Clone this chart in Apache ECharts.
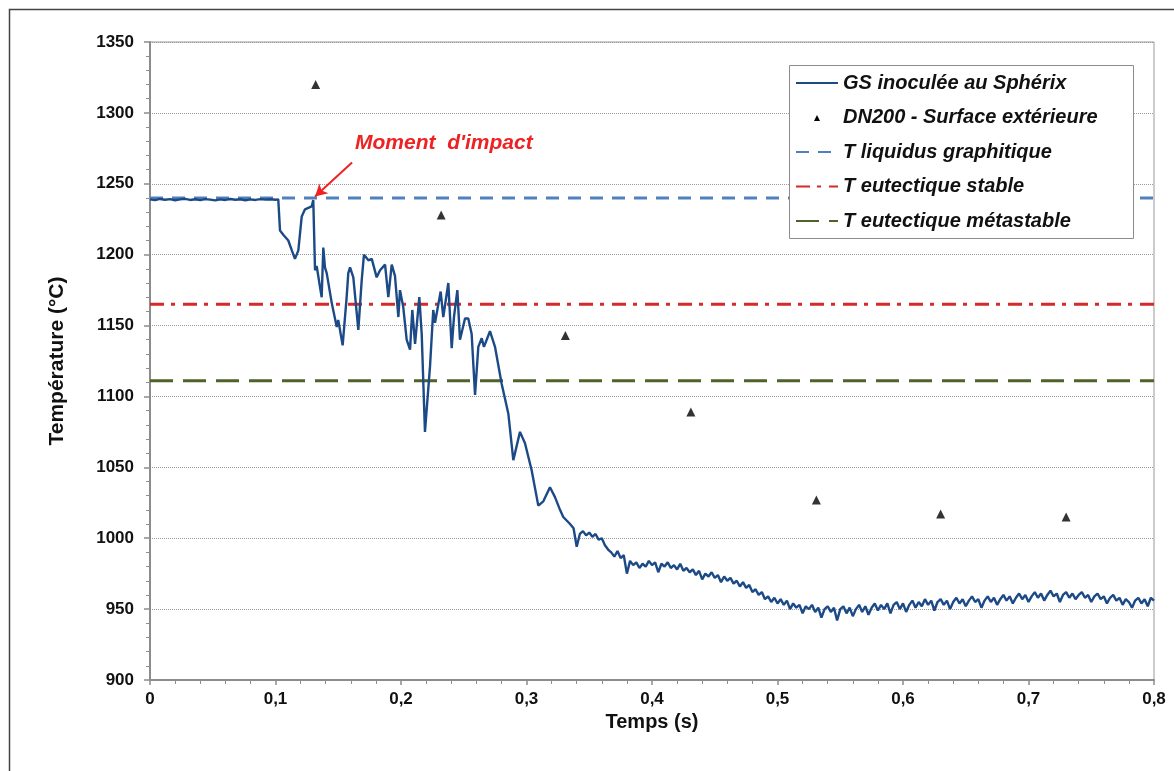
<!DOCTYPE html>
<html>
<head>
<meta charset="utf-8">
<script src="https://cdn.jsdelivr.net/npm/echarts@6/dist/echarts.min.js"></script>
<style>
html,body{margin:0;padding:0;background:#fff;}
#chart{width:1174px;height:771px;}
</style>
</head>
<body>
<div id="chart"></div>
<script>
// ---- DATA ----
const seriesNames = ['GS inoculée au Sphérix', 'DN200 - Surface extérieure', 'T liquidus graphitique', 'T eutectique stable', 'T eutectique métastable'];
const xTicks = [0, 0.1, 0.2, 0.3, 0.4, 0.5, 0.6, 0.7, 0.8];
const yTicks = [900, 950, 1000, 1050, 1100, 1150, 1200, 1250, 1300, 1350];

// GS inoculée au Sphérix : [temps (s), température (°C)]
const gsCurve = [
  [0,1239],[0.004,1238.5],[0.008,1239.3],[0.012,1238.7],[0.016,1239.2],[0.02,1238.4],[0.024,1239],[0.028,1239.4],
  [0.032,1238.6],[0.036,1239.1],[0.04,1238.5],[0.044,1239.2],[0.048,1238.8],[0.052,1238.3],[0.056,1239],[0.06,1238.6],
  [0.064,1239.3],[0.068,1238.7],[0.072,1239.1],[0.076,1238.4],[0.08,1239],[0.084,1238.6],[0.088,1239.2],[0.092,1238.8],
  [0.096,1239.1],[0.1,1238.7],[0.1022,1239],
  [0.1036,1217],[0.1062,1214],[0.1102,1210],[0.113,1203],[0.1155,1197],[0.1182,1203],[0.1209,1227],[0.1235,1232],
  [0.1288,1234],[0.1301,1238.5],[0.1315,1189],[0.1328,1192],[0.1355,1177],[0.1368,1170],[0.1381,1205],[0.1394,1191],
  [0.1408,1187],[0.1448,1166],[0.1488,1149],[0.15,1154],[0.1535,1136],[0.1567,1170],[0.158,1187],[0.1594,1191],
  [0.162,1184],[0.166,1147],[0.1687,1182],[0.1705,1200],[0.174,1196],[0.1767,1197],[0.1806,1184],[0.1833,1189],
  [0.1873,1193],[0.1899,1170],[0.1926,1193],[0.1952,1185],[0.1979,1156],[0.1992,1175],[0.2018,1163],[0.2045,1140],
  [0.2072,1133],[0.209,1161],[0.2112,1137],[0.2146,1170],[0.2165,1144],[0.2191,1075],[0.2231,1121],[0.2257,1161],
  [0.2271,1152],[0.2316,1174],[0.2337,1156],[0.2377,1180],[0.2404,1134],[0.2422,1156],[0.2449,1175],[0.247,1140],
  [0.251,1155],[0.2536,1155],[0.2563,1144],[0.259,1101],[0.2616,1135],[0.2643,1141],[0.2661,1135],[0.2709,1146],
  [0.2749,1135],[0.2802,1109],[0.2855,1088],[0.2895,1055],[0.2948,1075],[0.2988,1067],[0.3041,1048],[0.3094,1023],
  [0.3134,1026],[0.3187,1036],[0.3227,1029],[0.3267,1020],[0.3293,1015],[0.3347,1010],[0.3375,1007],[0.34,994],
  [0.3425,1003],[0.345,1005],[0.3475,1002],[0.35,1004],[0.3525,1001],[0.355,1003],[0.3575,999],[0.36,1000],
  [0.3625,995],[0.365,992],[0.3675,990],[0.37,987],[0.3725,991],[0.375,986],[0.3775,988],[0.38,975],
  [0.3825,984],[0.385,981],[0.3875,983],[0.39,979],[0.3925,982],[0.395,980],[0.3975,984],[0.4,981],
  [0.4025,983],[0.405,976],[0.4075,982],[0.41,980],[0.4125,983],[0.415,979],[0.4175,981],[0.42,978],
  [0.4225,982],[0.425,977],[0.4275,979],[0.43,976],[0.4325,978],[0.435,974],[0.4375,977],[0.44,971],
  [0.4425,975],[0.445,973],[0.4475,976],[0.45,972],[0.4525,974],[0.455,969],[0.4575,973],[0.46,970],
  [0.4625,972],[0.465,968],[0.4675,970],[0.47,966],[0.4725,969],[0.475,965],[0.4775,967],[0.48,962],
  [0.4825,964],[0.485,960],[0.4875,962],[0.49,957],[0.4925,959],[0.495,955],[0.4975,958],[0.5,954],
  [0.5025,957],[0.505,953],[0.5075,956],[0.51,950],[0.5125,954],[0.515,951],[0.5175,953],[0.52,947],
  [0.5225,952],[0.525,950],[0.5275,953],[0.53,948],[0.5325,951],[0.535,944],[0.5375,950],[0.54,952],
  [0.5425,948],[0.545,951],[0.5475,942],[0.55,950],[0.5525,952],[0.555,947],[0.5575,951],[0.56,945],
  [0.5625,950],[0.565,953],[0.5675,948],[0.57,952],[0.5725,946],[0.575,951],[0.5775,954],[0.58,949],
  [0.5825,953],[0.585,950],[0.5875,954],[0.59,947],[0.5925,953],[0.595,955],[0.5975,950],[0.6,954],
  [0.6025,948],[0.605,953],[0.6075,956],[0.61,951],[0.6125,955],[0.615,952],[0.6175,957],[0.62,953],
  [0.6225,956],[0.625,949],[0.6275,955],[0.63,957],[0.6325,953],[0.635,956],[0.6375,950],[0.64,955],
  [0.6425,958],[0.645,954],[0.6475,957],[0.65,952],[0.6525,956],[0.655,959],[0.6575,955],[0.66,957],
  [0.6625,951],[0.665,956],[0.6675,959],[0.67,955],[0.6725,958],[0.675,953],[0.6775,957],[0.68,960],
  [0.6825,956],[0.685,959],[0.6875,954],[0.69,958],[0.6925,961],[0.695,957],[0.6975,960],[0.7,955],
  [0.7025,959],[0.705,962],[0.7075,958],[0.71,961],[0.7125,956],[0.715,960],[0.7175,963],[0.72,959],
  [0.7225,961],[0.725,955],[0.7275,960],[0.73,962],[0.7325,958],[0.735,961],[0.7375,957],[0.74,960],
  [0.7425,962],[0.745,958],[0.7475,960],[0.75,955],[0.7525,959],[0.755,961],[0.7575,957],[0.76,959],
  [0.7625,954],[0.765,958],[0.7675,960],[0.77,956],[0.7725,958],[0.775,953],[0.7775,957],[0.78,955],
  [0.7825,951],[0.785,956],[0.7875,958],[0.79,954],[0.7925,957],[0.795,952],[0.7975,958],[0.8,956]
];

// DN200 - Surface extérieure
const dn200Times = [0.132, 0.232, 0.331, 0.431, 0.531, 0.630, 0.730];
const dn200Temps = [1320, 1228, 1143, 1089, 1027, 1017, 1015];

// Températures de référence
const tLiquidus = 1240;
const tEutStable = 1165;
const tEutMetastable = 1111;
const xRange = [0, 0.8];

// Annotation "Moment d'impact" : flèche [temps, température]
const impactArrowFrom = [0.161, 1265];
const impactArrowTo = [0.1315, 1241];
const impactLabel = "Moment  d'impact";

// ---- CHART ----
const FONT = '"Liberation Sans", Arial, sans-serif';
const chart = echarts.init(document.getElementById('chart'), null, {renderer: 'canvas'});

function hline(name, val, color, dash) {
  return {
    name: name, type: 'line', symbol: 'none', silent: true,
    data: [[xRange[0], val], [xRange[1], val]],
    lineStyle: {color: color, width: 3, type: dash},
    itemStyle: {color: color},
    z: 2
  };
}

const option = {
  animation: false,
  backgroundColor: '#fff',
  textStyle: {fontFamily: FONT},
  grid: {left: 150, right: 20, top: 42, bottom: 91, show: true, borderColor: '#999', borderWidth: 1, backgroundColor: 'transparent'},
  xAxis: {
    type: 'value', min: 0, max: 0.8, interval: 0.1,
    name: 'Temps (s)', nameLocation: 'middle', nameGap: 29,
    nameTextStyle: {fontFamily: FONT, fontSize: 20, fontWeight: 'bold', color: '#111'},
    axisLine: {show: true, lineStyle: {color: '#8c8c8c', width: 2}},
    axisTick: {show: true, length: 5, lineStyle: {color: '#8c8c8c', width: 1.5}},
    minorTick: {show: true, splitNumber: 5, length: 4, lineStyle: {color: '#8c8c8c', width: 1}},
    splitLine: {show: false},
    axisLabel: {
      margin: 11, fontFamily: FONT, fontSize: 17, fontWeight: 'bold', color: '#111',
      formatter: function (v) { return v === 0 ? '0' : v.toFixed(1).replace('.', ','); }
    }
  },
  yAxis: {
    type: 'value', min: 900, max: 1350, interval: 50,
    name: 'Température (°C)', nameLocation: 'middle', nameGap: 82, nameRotate: 90,
    nameTextStyle: {fontFamily: FONT, fontSize: 21, fontWeight: 'bold', color: '#111'},
    axisLine: {show: true, lineStyle: {color: '#8c8c8c', width: 2}},
    axisTick: {show: true, length: 6, lineStyle: {color: '#8c8c8c', width: 1.5}},
    minorTick: {show: true, splitNumber: 5, length: 4, lineStyle: {color: '#8c8c8c', width: 1}},
    splitLine: {show: true, lineStyle: {color: '#9a9a9a', width: 1, type: 'dotted'}},
    axisLabel: {margin: 16, fontFamily: FONT, fontSize: 17, fontWeight: 'bold', color: '#111',
      formatter: function (v) { return String(v); }}
  },
  legend: {
    orient: 'vertical', left: 789, top: 65, itemWidth: 42, itemHeight: 14, itemGap: 12.5,
    padding: [7, 10, 7, 6], z: 6,
    backgroundColor: 'transparent', borderWidth: 0,
    itemStyle: {opacity: 0},
    textStyle: {fontFamily: FONT, fontSize: 20, lineHeight: 22, fontWeight: 'bold', fontStyle: 'italic', color: '#111'},
    data: [
      {name: seriesNames[0]},
      {name: seriesNames[1], icon: 'path://M0,0 M42,14 M18,10.5 L21,4.5 L24,10.5 Z', itemStyle: {color: '#000', opacity: 1}},
      {name: seriesNames[2]},
      {name: seriesNames[3]},
      {name: seriesNames[4]}
    ]
  },
  series: [
    {
      name: seriesNames[0], type: 'line', symbol: 'none', data: gsCurve,
      lineStyle: {color: '#1c4a86', width: 2.4}, itemStyle: {color: '#1c4a86'}, z: 5,
      markLine: {
        silent: true, symbol: ['none', 'arrow'], symbolSize: [10, 12],
        lineStyle: {color: '#ee2222', width: 2, type: 'solid'},
        label: {show: false},
        data: [[{coord: impactArrowFrom}, {coord: impactArrowTo}]]
      }
    },
    {
      name: seriesNames[1], type: 'scatter', symbol: 'triangle', symbolSize: 9,
      data: dn200Times.map((t, i) => [t, dn200Temps[i]]),
      itemStyle: {color: '#000'}, z: 6
    },
    hline(seriesNames[2], tLiquidus, '#4f81bd', [13, 9]),
    hline(seriesNames[3], tEutStable, '#d42a2a', [14, 7, 4, 8]),
    hline(seriesNames[4], tEutMetastable, '#4f6228', [23, 10])
  ],
  graphic: [
    {type: 'rect', left: 7, top: 7, shape: {width: 1200, height: 800}, style: {fill: 'none', stroke: '#444', lineWidth: 1.5}, silent: true, z: -1},
    {type: 'rect', left: 789, top: 65, shape: {width: 344, height: 173}, style: {fill: '#fff', stroke: '#8c8c8c', lineWidth: 1}, silent: true, z: 3},
    {type: 'text', left: 355, top: 133, style: {text: impactLabel, font: 'italic bold 21px "Liberation Sans", Arial, sans-serif', fill: '#ee2222'}}
  ]
};
chart.setOption(option);
</script>
</body>
</html>
